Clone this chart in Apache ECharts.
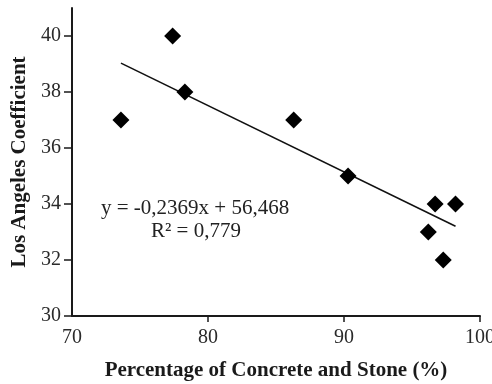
<!DOCTYPE html>
<html>
<head>
<meta charset="utf-8">
<script src="https://cdn.jsdelivr.net/npm/echarts@6/dist/echarts.min.js"></script>
<style>
  html, body { margin: 0; padding: 0; background: #fff; }
  #chart { width: 492px; height: 384px; }
</style>
</head>
<body>
<div id="chart"></div>
<script>
// Aggregate share (%) and measured Los Angeles coefficient per sample
const concreteStone = [73.6, 77.4, 78.3, 86.3, 90.3, 96.7, 98.2, 96.2, 97.3];
const laCoefficient = [37, 40, 38, 37, 35, 34, 34, 33, 32];

// Linear fit reported on the chart
const slope = -0.2369;
const intercept = 56.468;
const equationText = 'y = -0,2369x + 56,468';
const r2Text = 'R² = 0,779';

const yTicks = [30, 32, 34, 36, 38, 40];
const xTicks = [70, 80, 90, 100];

const points = concreteStone.map((x, i) => [x, laCoefficient[i]]);
const xFitStart = Math.min(...concreteStone);
const xFitEnd = Math.max(...concreteStone);
const fitLine = [
  [xFitStart, slope * xFitStart + intercept],
  [xFitEnd, slope * xFitEnd + intercept]
];

const serif = '"Liberation Serif", "Times New Roman", serif';
const chart = echarts.init(document.getElementById('chart'));

chart.setOption({
  animation: false,
  backgroundColor: '#fff',
  grid: { left: 72, right: 12, top: 8, bottom: 68, outerBoundsMode: 'none', containLabel: false },
  xAxis: {
    type: 'value',
    min: 70, max: 100, interval: 10,
    name: 'Percentage of Concrete and Stone (%)',
    nameLocation: 'middle',
    nameGap: 44,
    nameTextStyle: { fontFamily: serif, fontWeight: 'bold', fontSize: 21, color: '#1a1a1a' },
    axisLine: { lineStyle: { color: '#1a1a1a', width: 2 } },
    axisTick: { show: true, length: 6, lineStyle: { color: '#1a1a1a', width: 1.5 }, customValues: xTicks.slice(1) },
    axisLabel: { fontFamily: serif, fontSize: 20, color: '#2a2a2a', margin: 12, customValues: xTicks },
    splitLine: { show: false }
  },
  yAxis: {
    type: 'value',
    min: 30, max: 41,
    name: 'Los Angeles Coefficient',
    nameLocation: 'middle',
    nameGap: 41,
    nameRotate: 90,
    nameTextStyle: { fontFamily: serif, fontWeight: 'bold', fontSize: 21, color: '#1a1a1a' },
    axisLine: { show: true, lineStyle: { color: '#1a1a1a', width: 2 } },
    axisTick: { show: true, length: 8, lineStyle: { color: '#1a1a1a', width: 1.5 }, customValues: yTicks },
    axisLabel: { fontFamily: serif, fontSize: 20, color: '#2a2a2a', margin: 11, customValues: yTicks },
    splitLine: { show: false }
  },
  series: [
    {
      type: 'line',
      data: fitLine,
      symbol: 'none',
      lineStyle: { color: '#111', width: 1.6 },
      z: 2
    },
    {
      type: 'scatter',
      data: points,
      symbol: 'diamond',
      symbolSize: 17,
      itemStyle: { color: '#000', opacity: 1 },
      z: 3
    }
  ],
  graphic: [
    {
      type: 'text',
      left: 101, top: 198,
      style: { text: equationText, fontFamily: serif, fontSize: 21, fill: '#222' }
    },
    {
      type: 'text',
      left: 151, top: 221,
      style: { text: r2Text, fontFamily: serif, fontSize: 21, fill: '#222' }
    }
  ]
});
</script>
</body>
</html>
